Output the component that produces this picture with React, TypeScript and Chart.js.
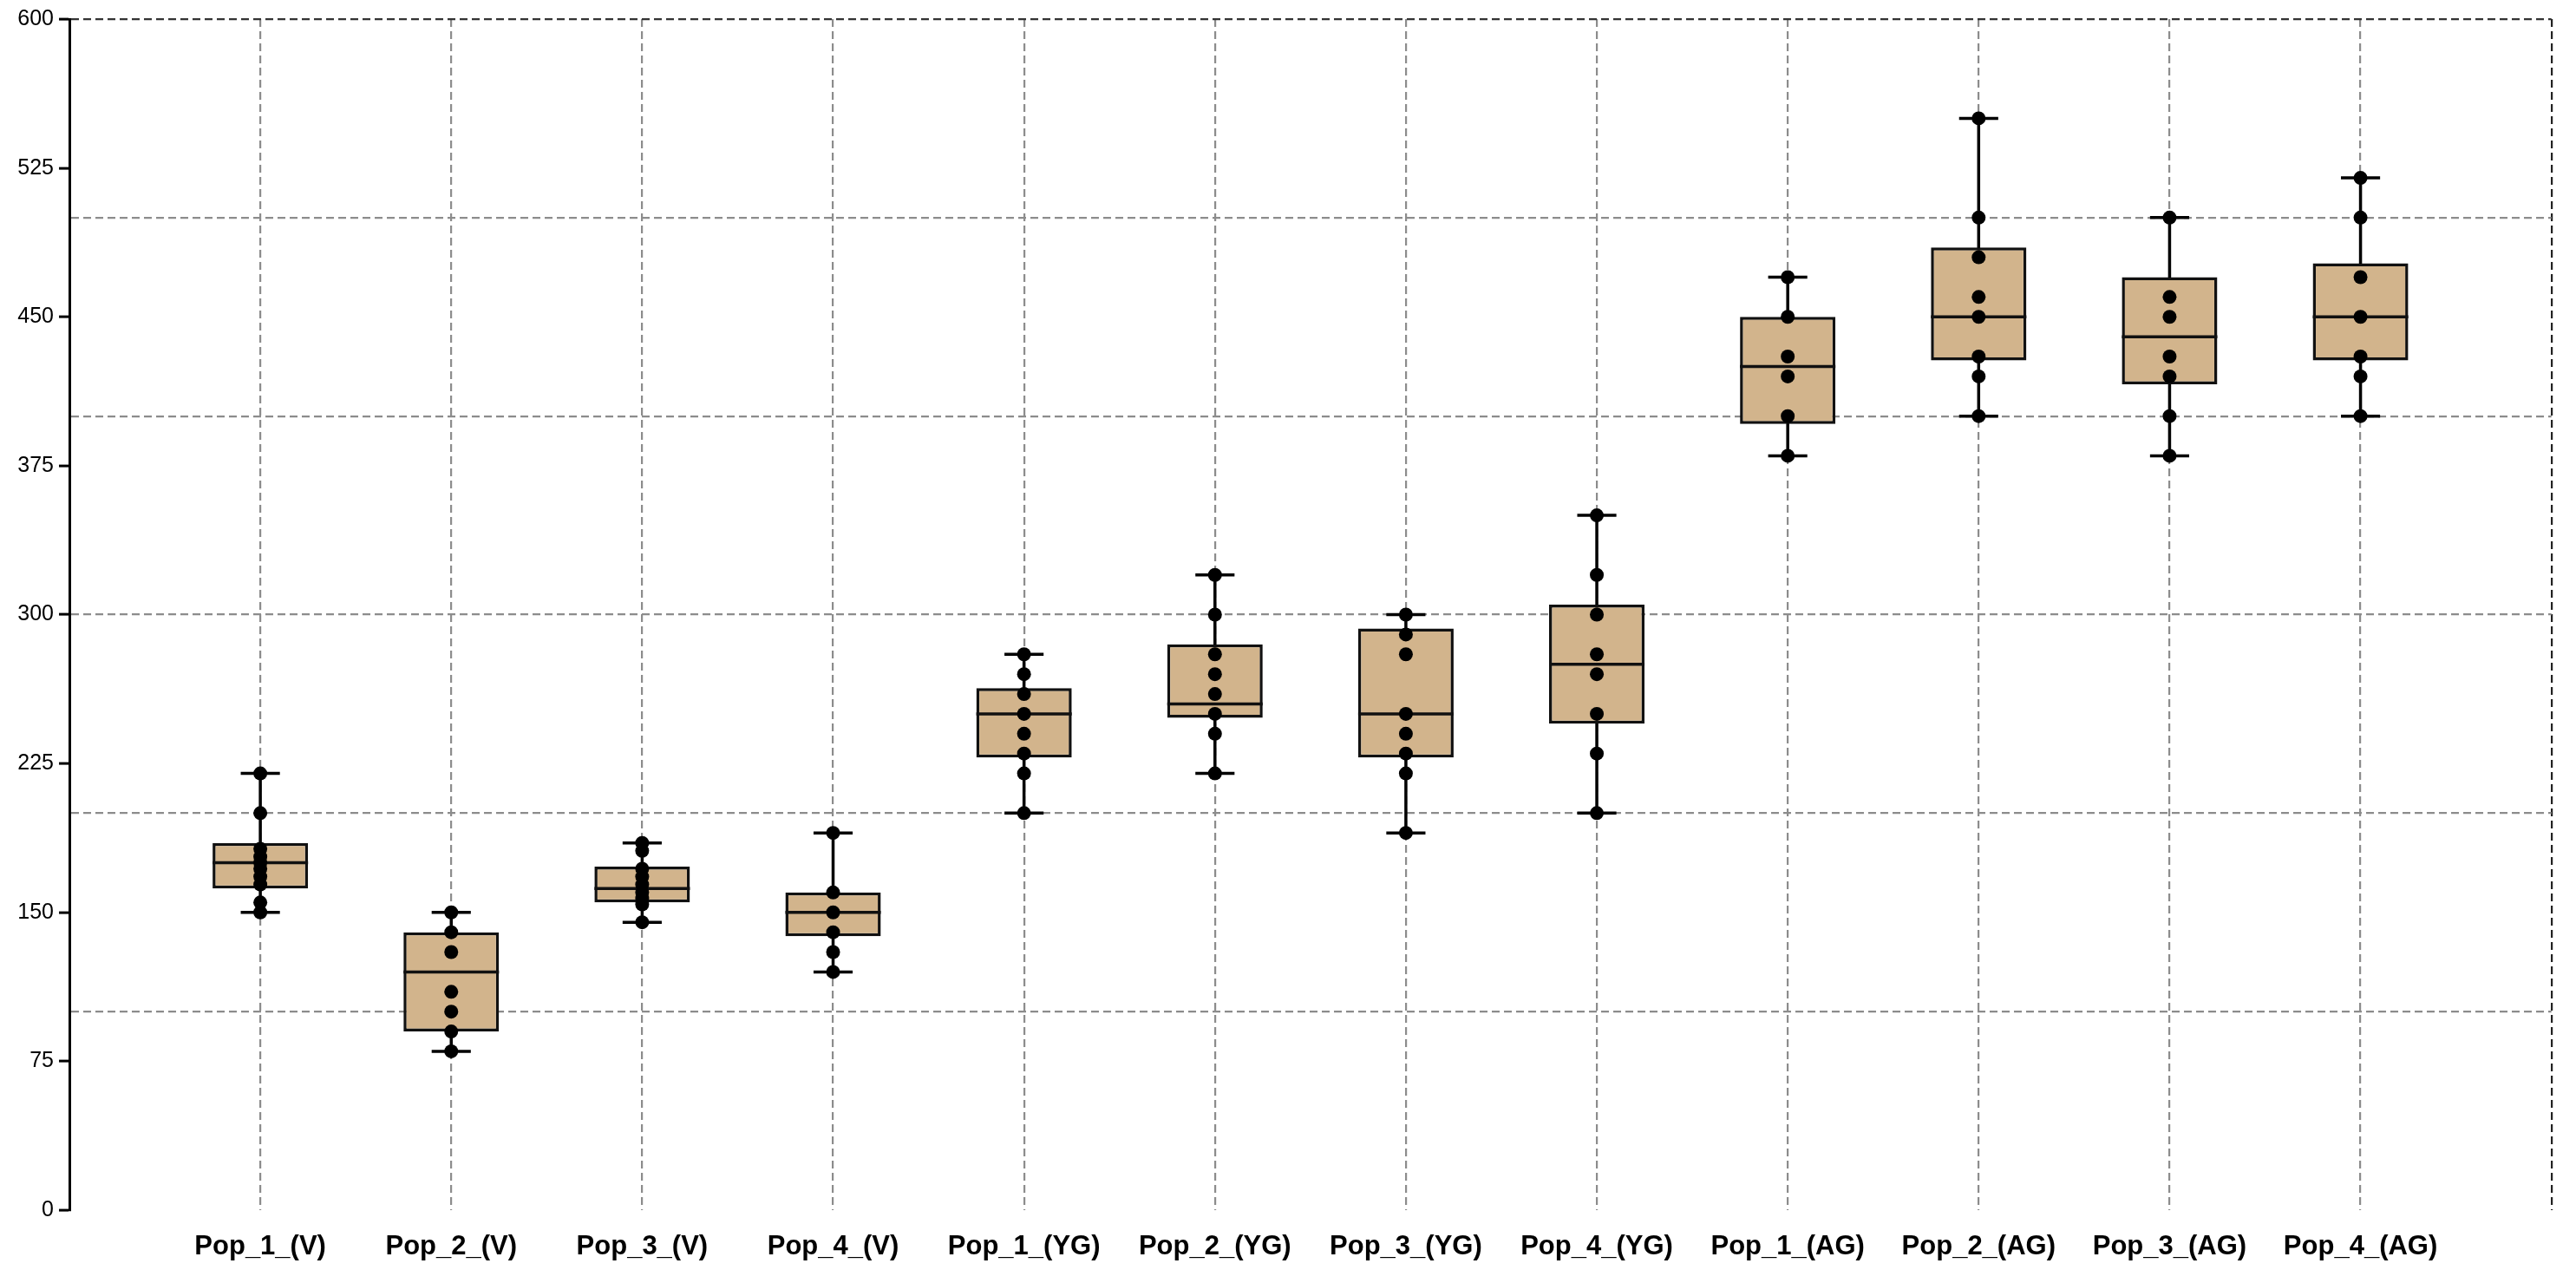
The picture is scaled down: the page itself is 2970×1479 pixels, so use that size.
import React, { useEffect, useRef } from 'react';
import { Chart, registerables } from 'chart.js';

Chart.register(...registerables);

const categories = [
  'Pop_1_(V)', 'Pop_2_(V)', 'Pop_3_(V)', 'Pop_4_(V)',
  'Pop_1_(YG)', 'Pop_2_(YG)', 'Pop_3_(YG)', 'Pop_4_(YG)',
  'Pop_1_(AG)', 'Pop_2_(AG)', 'Pop_3_(AG)', 'Pop_4_(AG)',
];

const whiskerLow = [150, 80, 145, 120, 200, 220, 190, 200, 380, 400, 380, 400];
const q1Values = [162, 90, 155, 138, 228, 248, 228, 245, 396, 428, 416, 428];
const medianValues = [175, 120, 162, 150, 250, 255, 250, 275, 425, 450, 440, 450];
const q3Values = [185, 140, 173, 160, 263, 285, 293, 305, 450, 485, 470, 477];
const whiskerHigh = [220, 150, 185, 190, 280, 320, 300, 350, 470, 550, 500, 520];

const pointsPop1V = [220, 200, 182, 178, 175, 172, 168, 164, 155, 150];
const pointsPop2V = [150, 140, 130, 110, 100, 90, 80];
const pointsPop3V = [185, 181, 172, 168, 164, 160, 157, 154, 145];
const pointsPop4V = [190, 160, 150, 140, 130, 120];
const pointsPop1YG = [280, 270, 260, 250, 240, 230, 220, 200];
const pointsPop2YG = [320, 300, 280, 270, 260, 250, 240, 220];
const pointsPop3YG = [300, 290, 280, 250, 240, 230, 220, 190];
const pointsPop4YG = [350, 320, 300, 280, 270, 250, 230, 200];
const pointsPop1AG = [470, 450, 430, 420, 400, 380];
const pointsPop2AG = [550, 500, 480, 460, 450, 430, 420, 400];
const pointsPop3AG = [500, 460, 450, 430, 420, 400, 380];
const pointsPop4AG = [520, 500, 470, 450, 430, 420, 400];

const observations = [
  pointsPop1V, pointsPop2V, pointsPop3V, pointsPop4V,
  pointsPop1YG, pointsPop2YG, pointsPop3YG, pointsPop4YG,
  pointsPop1AG, pointsPop2AG, pointsPop3AG, pointsPop4AG,
];

const yLabelTicks = [0, 75, 150, 225, 300, 375, 450, 525, 600];
const yGridTicks = [100, 200, 300, 400, 500, 600];

const axisLabels = ['', ...categories, ' '];

const boxPartsPlugin = {
  id: 'boxParts',
  beforeDatasetsDraw(chart: any) {
    const ctx = chart.ctx;
    const xs = chart.scales.x;
    const ys = chart.scales.y;
    const meta = chart.getDatasetMeta(0);
    ctx.save();
    ctx.strokeStyle = '#000';
    ctx.lineWidth = 3.5;
    categories.forEach((_, i) => {
      const el = meta.data[i + 1];
      const bw = el ? el.width : 100;
      const cw = bw * 0.41;
      const x = xs.getPixelForValue(i + 1);
      const yl = ys.getPixelForValue(whiskerLow[i]);
      const yh = ys.getPixelForValue(whiskerHigh[i]);
      ctx.beginPath();
      ctx.moveTo(x, yh);
      ctx.lineTo(x, yl);
      ctx.moveTo(x - cw / 2, yh);
      ctx.lineTo(x + cw / 2, yh);
      ctx.moveTo(x - cw / 2, yl);
      ctx.lineTo(x + cw / 2, yl);
      ctx.stroke();
    });
    ctx.restore();
  },
  afterDatasetDraw(chart: any, args: any) {
    if (args.meta.type !== 'bar') return;
    const ctx = chart.ctx;
    const xs = chart.scales.x;
    const ys = chart.scales.y;
    const meta = args.meta;
    ctx.save();
    ctx.strokeStyle = '#111';
    ctx.lineWidth = 3.5;
    categories.forEach((_, i) => {
      const el = meta.data[i + 1];
      const bw = el ? el.width : 100;
      const x = xs.getPixelForValue(i + 1);
      const y = ys.getPixelForValue(medianValues[i]);
      ctx.beginPath();
      ctx.moveTo(x - bw / 2, y);
      ctx.lineTo(x + bw / 2, y);
      ctx.stroke();
    });
    ctx.restore();
  },
};

export default function App() {
  const canvasRef = useRef<HTMLCanvasElement | null>(null);

  useEffect(() => {
    const canvas = canvasRef.current;
    if (!canvas) return;

    const boxRanges: any[] = [null, ...categories.map((_, i) => [q1Values[i], q3Values[i]]), null];
    const pointData: any[] = [];
    observations.forEach((vals, i) => {
      vals.forEach((v) => pointData.push({ x: categories[i], y: v }));
    });

    const allYTicks = Array.from(new Set([...yLabelTicks, ...yGridTicks])).sort((a, b) => a - b);

    const chart = new Chart(canvas, {
      type: 'bar',
      data: {
        labels: axisLabels,
        datasets: [
          {
            type: 'bar',
            data: boxRanges,
            backgroundColor: '#D2B48C',
            borderColor: '#111',
            borderWidth: 3.5,
            borderSkipped: false,
            barPercentage: 0.5,
            categoryPercentage: 1,
            order: 2,
          } as any,
          {
            type: 'scatter',
            data: pointData,
            pointRadius: 8,
            pointBackgroundColor: '#000',
            pointBorderColor: '#000',
            pointBorderWidth: 0,
            showLine: false,
            order: 1,
          } as any,
        ],
      },
      options: {
        responsive: false,
        animation: false,
        devicePixelRatio: 1,
        layout: { padding: { top: 22, right: 9, bottom: 0, left: 0 } },
        plugins: {
          legend: { display: false },
          tooltip: { enabled: false },
        },
        scales: {
          x: {
            type: 'category',
            offset: false,
            afterFit: (scale: any) => { scale.height = 84; },
            grid: {
              offset: false,
              drawTicks: false,
              lineWidth: 2.2,
              color: (c: any) => {
                const idx = c.index;
                if (idx === 0) return 'rgba(0,0,0,0)';
                if (idx === axisLabels.length - 1) return '#222';
                return '#8c8c8c';
              },
            },
            border: { display: false, dash: [9, 5] },
            ticks: {
              autoSkip: false,
              maxRotation: 0,
              minRotation: 0,
              padding: 24,
              color: '#000',
              font: { family: '"Liberation Sans", Arial, sans-serif', size: 31, weight: 'bold' },
            },
          },
          y: {
            type: 'linear',
            min: 0,
            max: 600,
            afterFit: (scale: any) => { scale.width = 80; },
            afterBuildTicks: (scale: any) => {
              scale.ticks = allYTicks.map((v) => ({ value: v }));
            },
            grid: {
              lineWidth: 2.2,
              tickLength: 12,
              tickWidth: 3,
              color: (c: any) => {
                const v = c.tick ? c.tick.value : 0;
                if (v === 600) return '#333';
                if (v !== 0 && v % 100 === 0) return '#8c8c8c';
                return 'rgba(0,0,0,0)';
              },
              tickColor: (c: any) => {
                const v = c.tick ? c.tick.value : 0;
                return v % 75 === 0 ? '#000' : 'rgba(0,0,0,0)';
              },
              tickBorderDash: [],
            },
            border: { display: true, color: '#000', width: 3, dash: [9, 5] },
            ticks: {
              padding: 6,
              color: '#000',
              font: { family: '"Liberation Sans", Arial, sans-serif', size: 25 },
              callback: (v: any) => (Number(v) % 75 === 0 ? String(v) : ''),
            },
          },
        },
      } as any,
      plugins: [boxPartsPlugin],
    });

    return () => chart.destroy();
  }, []);

  return (
    <div style={{ position: 'absolute', left: 0, top: 0, width: 2970, height: 1479, background: '#fff' }}>
      <canvas ref={canvasRef} width={2970} height={1479} style={{ width: 2970, height: 1479, display: 'block' }} />
    </div>
  );
}
